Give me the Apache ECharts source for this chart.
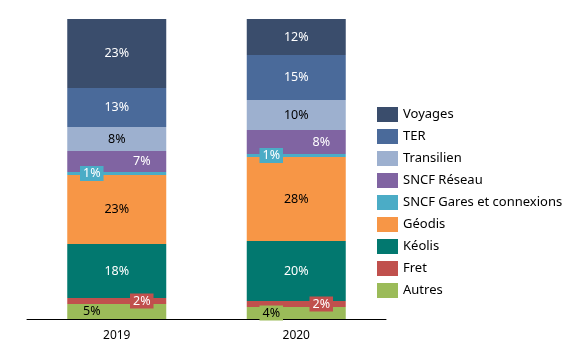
<!DOCTYPE html>
<html>
<head>
<meta charset="utf-8">
<script src="https://cdn.jsdelivr.net/npm/echarts@6/dist/echarts.min.js"></script>
<style>
  html, body { margin: 0; padding: 0; background: #fff; }
  #chart { width: 572px; height: 350px; }
</style>
</head>
<body>
<div id="chart"></div>
<script>
// years on the x axis
const years = ['2019', '2020']

// share of each activity, in %
const autres = [5, 4]
const fret = [2, 2]
const keolis = [18, 20]
const geodis = [23, 28]
const gares = [1, 1]
const reseau = [7, 8]
const transilien = [8, 10]
const ter = [13, 15]
const voyages = [23, 12]

const legendOrder = ['Voyages', 'TER', 'Transilien', 'SNCF Réseau', 'SNCF Gares et connexions', 'Géodis', 'Kéolis', 'Fret', 'Autres']

const chart = echarts.init(document.getElementById('chart'))

// one stacked bar series, with its label look
function serie(name, values, color, textColor, dx, withBox) {
    return {
        name: name,
        type: 'bar',
        stack: 'total',
        barWidth: 99,
        data: values,
        itemStyle: { color: color },
        label: {
            show: true,
            position: 'inside',
            formatter: '{c}%',
            color: textColor,
            fontFamily: 'Noto Sans',
            fontSize: 12.5,
            offset: [dx, 0],
            backgroundColor: withBox ? color : 'transparent',
            padding: withBox ? [1, 3] : 0
        }
    }
}

chart.setOption({
    animation: false,
    textStyle: { fontFamily: 'Noto Sans' },
    grid: { left: 27, right: 186, top: 19, bottom: 31, containLabel: false },
    legend: {
        orient: 'vertical',
        left: 377,
        top: 107,
        padding: 0,
        icon: 'rect',
        itemWidth: 21,
        itemHeight: 15,
        itemGap: 7,
        data: legendOrder,
        textStyle: { fontSize: 13, color: '#000', lineHeight: 15, fontFamily: 'Noto Sans' }
    },
    xAxis: {
        type: 'category',
        data: years,
        axisLine: { lineStyle: { color: '#000', width: 1 } },
        axisTick: { show: false },
        axisLabel: { color: '#000', fontSize: 12, margin: 11, fontFamily: 'Noto Sans' }
    },
    yAxis: {
        type: 'value',
        min: 0,
        max: 100,
        show: false
    },
    series: [
        serie('Autres', autres, '#9BBB59', '#000', -25, true),
        serie('Fret', fret, '#C0504D', '#fff', 25, true),
        serie('Kéolis', keolis, '#02786F', '#fff', 0, false),
        serie('Géodis', geodis, '#F79646', '#000', 0, false),
        serie('SNCF Gares et connexions', gares, '#4BACC6', '#fff', -25, true),
        serie('SNCF Réseau', reseau, '#8064A2', '#fff', 25, false),
        serie('Transilien', transilien, '#9DB0CF', '#000', 0, false),
        serie('TER', ter, '#4A6A9A', '#fff', 0, false),
        serie('Voyages', voyages, '#3A4D6C', '#fff', 0, false)
    ]
})
</script>
</body>
</html>
